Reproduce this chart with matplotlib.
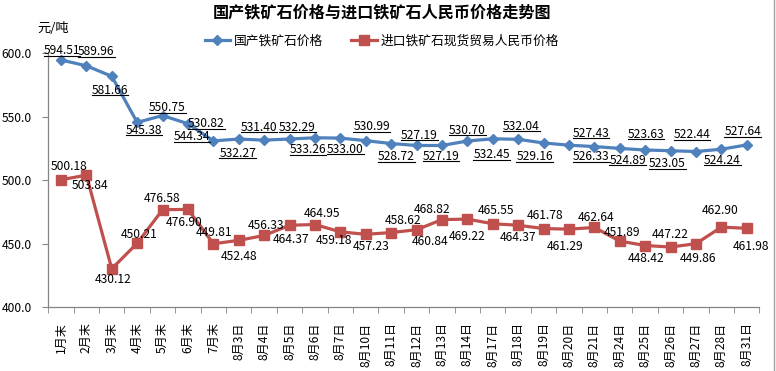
import matplotlib
matplotlib.use("Agg")
import matplotlib.pyplot as plt
from matplotlib.lines import Line2D
from matplotlib.transforms import IdentityTransform

plt.rcParams['font.family'] = ['Noto Sans CJK SC', 'DejaVu Sans']

# data
categories = ['1月末', '2月末', '3月末', '4月末', '5月末', '6月末', '7月末',
              '8月3日', '8月4日', '8月5日', '8月6日', '8月7日', '8月10日', '8月11日',
              '8月12日', '8月13日', '8月14日', '8月17日', '8月18日', '8月19日', '8月20日',
              '8月21日', '8月24日', '8月25日', '8月26日', '8月27日', '8月28日', '8月31日']
domestic = [594.51, 589.96, 581.66, 545.38, 550.75, 544.34, 530.82, 532.27, 531.40, 532.29,
            533.26, 533.00, 530.99, 528.72, 527.19, 527.19, 530.70, 532.45, 532.04, 529.16,
            527.43, 526.33, 524.89, 523.63, 523.05, 522.44, 524.24, 527.64]
imported = [500.18, 503.84, 430.12, 450.21, 476.58, 476.90, 449.81, 452.48, 456.33, 464.37,
            464.95, 459.18, 457.23, 458.62, 460.84, 468.82, 469.22, 465.55, 464.37, 461.78,
            461.29, 462.64, 451.89, 448.42, 447.22, 449.86, 462.90, 461.98]
name_dom = '国产铁矿石价格'
name_imp = '进口铁矿石现货贸易人民币价格'

# label offsets in pixels (dx, dy; dy positive = up)
dom_off = [(1, 9), (10, 14), (-2, -14), (7, -8), (5, 8), (4, -13), (-7, 17), (-1, -14),
           (-5, 13), (8, 12), (-7, -12), (5, -11), (6, 14), (5, -13), (3, 10), (-1, -11),
           (0, 11), (-1, -16), (3, 13), (-9, -14), (22, 12), (-3, -10), (8, -12), (1, 16),
           (-3, -13), (-4, 17), (1, -11), (-4, 13)]
imp_off = [(8, 13), (4, -10), (1, -11), (2, 9), (-1, 11), (-4, -13), (1, 11), (0, -16),
           (2, 10), (1, -14), (7, 11), (-6, -9), (5, -12), (12, 12), (13, -12), (-10, 10),
           (0, -17), (3, 13), (0, -12), (1, 13), (-4, -17), (2, 10), (2, 9), (1, -13),
           (0, 13), (2, -15), (-1, 17), (4, -18)]

blue = '#4F81BD'
red = '#C0504D'
axis_gray = '#868686'

fig = plt.figure(figsize=(7.76, 3.71), dpi=100)
ax = fig.add_axes([0.0622, 0.1725, 0.9165, 0.6846])

x = list(range(len(categories)))
ax.plot(x, domestic, color=blue, lw=2.3, marker='D', markersize=5, zorder=3)
ax.plot(x, imported, color=red, lw=2.3, marker='s', markersize=7.5, zorder=3)

ax.set_xlim(-0.5, len(categories) - 0.5)
ax.set_ylim(400, 600)
ax.set_yticks([400, 450, 500, 550, 600])
ax.set_yticklabels(['%.1f' % v for v in [400, 450, 500, 550, 600]])
ax.set_xticks(x)
ax.set_xticklabels(categories, rotation=90, fontsize=8.7)
ax.set_xticks([i + 0.5 for i in range(-1, len(categories))], minor=True)
ax.tick_params(axis='x', which='major', length=0, pad=11)
ax.tick_params(axis='x', which='minor', length=4, color=axis_gray, direction='out')
ax.tick_params(axis='y', length=4, color=axis_gray, pad=8, labelsize=8.7)

for side in ['top', 'right']:
    ax.spines[side].set_visible(False)
for side in ['left', 'bottom']:
    ax.spines[side].set_color(axis_gray)
    ax.spines[side].set_linewidth(0.9)

blue_texts = []
for i, v in enumerate(domestic):
    t = ax.annotate('%.2f' % v, (i, v), xytext=dom_off[i], textcoords='offset pixels',
                    ha='center', va='center', fontsize=8.7, zorder=4)
    blue_texts.append(t)
for i, v in enumerate(imported):
    ax.annotate('%.2f' % v, (i, v), xytext=imp_off[i], textcoords='offset pixels',
                ha='center', va='center', fontsize=8.7, zorder=4)

fig.text(382 / 776, 1 - 12 / 371, '国产铁矿石价格与进口铁矿石人民币价格走势图',
         ha='center', va='center', fontsize=11.6, fontweight='bold')
fig.text(53 / 776, 1 - 28 / 371, '元/吨', ha='center', va='center', fontsize=9.5)

handles = [Line2D([], [], color=blue, lw=2.3, marker='D', markersize=5),
           Line2D([], [], color=red, lw=2.3, marker='s', markersize=7.5)]
fig.legend(handles, [name_dom, name_imp], loc='center', bbox_to_anchor=(382 / 776, 1 - 41 / 371),
           ncol=2, frameon=False, fontsize=9.2, handlelength=2.0, handletextpad=0.3,
           columnspacing=2.2)

# right border of the chart area
fig.add_artist(Line2D([774 / 776, 774 / 776], [0, 1], color='#A0A0A0', lw=1.0))

# underline the domestic price labels
fig.canvas.draw()
r = fig.canvas.get_renderer()
for t in blue_texts:
    bb = t.get_window_extent(r)
    fig.add_artist(Line2D([bb.x0, bb.x1], [bb.y0 + 1.5, bb.y0 + 1.5], transform=IdentityTransform(),
                          color='black', lw=0.8))

fig.savefig('out.png', dpi=100)
